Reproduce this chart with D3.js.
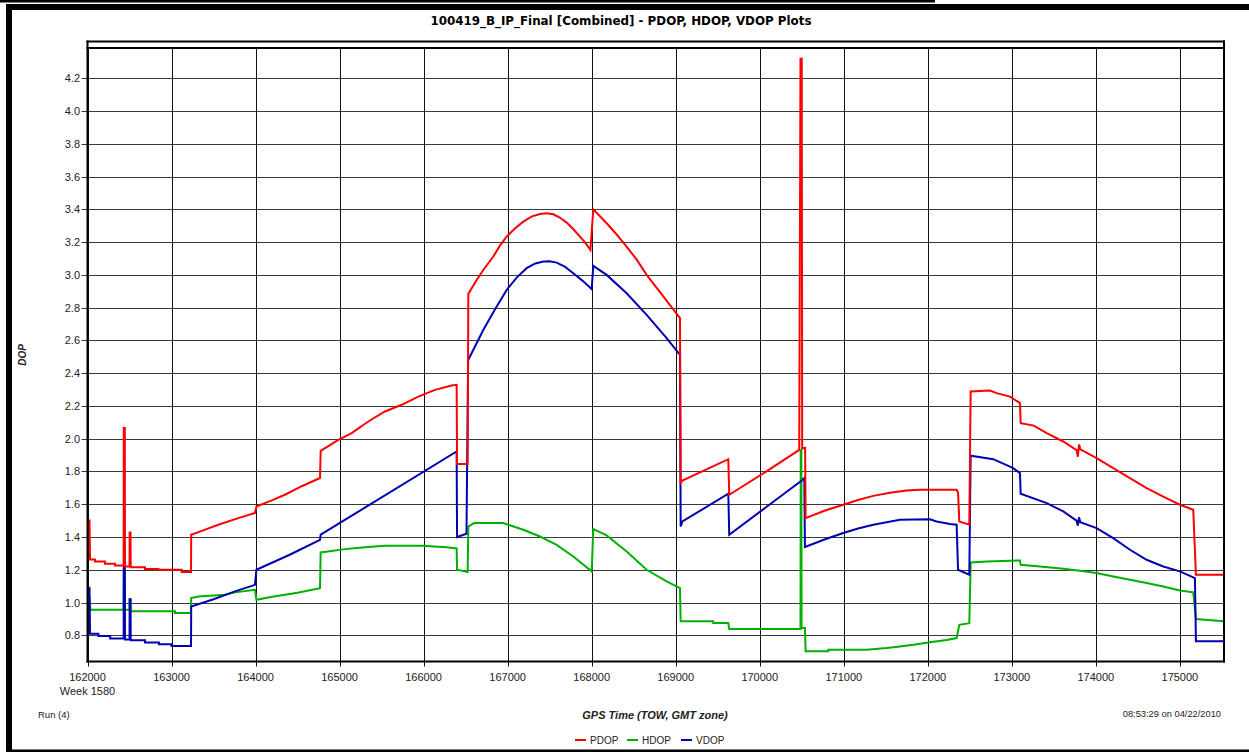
<!DOCTYPE html>
<html><head><meta charset="utf-8">
<script src="https://cdn.jsdelivr.net/npm/d3@7"></script>
<style>
html,body{margin:0;padding:0;background:#fff;}
svg{display:block;}
text{font-family:"Liberation Sans",Arial,sans-serif;fill:#222;}
</style></head>
<body><svg id="c" width="1249" height="752"></svg>
<script>
const chartTitle = "100419_B_IP_Final [Combined] - PDOP, HDOP, VDOP Plots";
const xTicks = [162000,163000,164000,165000,166000,167000,168000,169000,170000,171000,172000,173000,174000,175000];
const yTicks = [0.8,1.0,1.2,1.4,1.6,1.8,2.0,2.2,2.4,2.6,2.8,3.0,3.2,3.4,3.6,3.8,4.0,4.2];
const seriesNames = ["PDOP","HDOP","VDOP"];

const pdop = [[162020,1.50],[162024,1.50],[162030,1.262],[162089,1.262],[162089,1.25],[162208,1.25],[162208,1.237],[162327,1.237],[162327,1.226],[162430,1.226],[162432,2.065],[162444,2.065],[162446,1.22],[162500,1.22],[162502,1.428],[162512,1.428],[162514,1.216],[162684,1.216],[162684,1.204],[162843,1.204],[162843,1.20],[163121,1.20],[163121,1.186],[163232,1.186],[163234,1.414],[163400,1.445],[163557,1.475],[163795,1.515],[163993,1.546],[164010,1.586],[164200,1.625],[164350,1.658],[164550,1.71],[164767,1.76],[164775,1.926],[164985,1.993],[165144,2.034],[165342,2.105],[165540,2.166],[165739,2.207],[165937,2.257],[166135,2.298],[166334,2.325],[166393,2.329],[166398,1.845],[166524,1.845],[166532,2.884],[166620,2.96],[166710,3.03],[166829,3.112],[166910,3.18],[166988,3.234],[167090,3.285],[167186,3.325],[167290,3.357],[167385,3.372],[167460,3.376],[167543,3.37],[167620,3.35],[167702,3.319],[167780,3.28],[167861,3.234],[167925,3.195],[167985,3.152],[168019,3.40],[168178,3.315],[168300,3.245],[168416,3.173],[168540,3.09],[168654,3.0],[168850,2.87],[169051,2.736],[169059,1.73],[169080,1.745],[169626,1.875],[169637,1.658],[170062,1.795],[170470,1.932],[170485,4.32],[170500,4.32],[170505,1.94],[170540,1.945],[170546,1.515],[170770,1.56],[170994,1.597],[171170,1.626],[171351,1.651],[171550,1.67],[171748,1.684],[171907,1.688],[172343,1.688],[172360,1.67],[172375,1.495],[172494,1.475],[172510,2.288],[172740,2.294],[172819,2.278],[172978,2.257],[173097,2.217],[173105,2.095],[173260,2.08],[173415,2.034],[173612,1.983],[173770,1.93],[173785,1.89],[173800,1.965],[173815,1.935],[174009,1.881],[174207,1.82],[174406,1.759],[174604,1.698],[174802,1.647],[175000,1.597],[175159,1.566],[175191,1.17],[175536,1.17]];

const hdop = [[162020,1.03],[162024,1.03],[162035,0.956],[162430,0.956],[162432,1.20],[162444,1.20],[162446,0.956],[162500,0.956],[162502,1.02],[162512,1.02],[162514,0.946],[163041,0.946],[163041,0.936],[163232,0.936],[163234,1.027],[163319,1.037],[163636,1.047],[163755,1.062],[163993,1.078],[164010,1.017],[164200,1.035],[164500,1.06],[164767,1.088],[164775,1.306],[165065,1.326],[165303,1.337],[165540,1.347],[165977,1.347],[166274,1.337],[166393,1.33],[166398,1.20],[166524,1.186],[166532,1.464],[166600,1.485],[166948,1.485],[167186,1.444],[167385,1.403],[167583,1.352],[167781,1.281],[168000,1.19],[168019,1.448],[168178,1.41],[168416,1.312],[168654,1.2],[168892,1.129],[169051,1.088],[169059,0.885],[169447,0.885],[169447,0.875],[169626,0.875],[169637,0.838],[170485,0.838],[170488,1.93],[170495,1.93],[170498,0.845],[170538,0.845],[170546,0.702],[170816,0.702],[170816,0.712],[171272,0.712],[171510,0.722],[171669,0.732],[171828,0.742],[172026,0.757],[172224,0.771],[172343,0.783],[172375,0.864],[172494,0.874],[172510,1.245],[172700,1.25],[173097,1.257],[173105,1.230],[173335,1.220],[173612,1.206],[173810,1.194],[174009,1.18],[174207,1.159],[174406,1.139],[174604,1.119],[174802,1.098],[175000,1.074],[175159,1.062],[175191,0.899],[175536,0.885]];

const vdop = [[162020,1.09],[162024,1.09],[162030,0.81],[162130,0.81],[162130,0.795],[162270,0.795],[162270,0.78],[162430,0.78],[162432,1.22],[162444,1.22],[162446,0.775],[162500,0.775],[162502,1.02],[162512,1.02],[162514,0.77],[162684,0.77],[162684,0.756],[162850,0.756],[162850,0.745],[163000,0.745],[163000,0.735],[163232,0.735],[163234,0.976],[163500,1.02],[163755,1.068],[163993,1.108],[164010,1.20],[164400,1.29],[164767,1.383],[164775,1.414],[166393,1.922],[166398,1.40],[166510,1.42],[166530,2.48],[166710,2.664],[166850,2.79],[166988,2.908],[167110,2.985],[167226,3.041],[167330,3.07],[167424,3.081],[167500,3.083],[167583,3.075],[167680,3.05],[167781,3.01],[167890,2.965],[168000,2.913],[168019,3.055],[168178,3.0],[168416,2.888],[168654,2.756],[168892,2.614],[169051,2.512],[169059,1.464],[169080,1.495],[169626,1.664],[169637,1.414],[170500,1.745],[170530,1.76],[170538,1.339],[170770,1.385],[170994,1.424],[171170,1.452],[171351,1.475],[171669,1.505],[172026,1.508],[172105,1.495],[172263,1.48],[172343,1.475],[172360,1.20],[172494,1.17],[172510,1.896],[172779,1.875],[173017,1.82],[173097,1.79],[173105,1.664],[173415,1.607],[173612,1.556],[173770,1.50],[173785,1.47],[173800,1.52],[173815,1.49],[174009,1.454],[174207,1.393],[174406,1.322],[174604,1.261],[174802,1.22],[175000,1.19],[175179,1.149],[175191,0.763],[175536,0.763]];

const colors = {PDOP:"#ff0000", HDOP:"#00b000", VDOP:"#0000b4"};

const svg = d3.select("#c");
const L = 87.5, R = 1224, T = 48, B = 661.5;
const x = d3.scaleLinear().domain([162000,175525]).range([L,R]);
const y = d3.scaleLinear().domain([0.64,4.385]).range([B,T]);
const px = v => Math.round(v) + 0.5;

// page frame
svg.append("rect").attr("x",0).attr("y",0).attr("width",935).attr("height",2.5).attr("fill","#000");
svg.append("rect").attr("x",6).attr("y",4).attr("width",1243).attr("height",6).attr("fill","#000");
svg.append("rect").attr("x",6).attr("y",4).attr("width",6).attr("height",748).attr("fill","#000");
svg.append("rect").attr("x",6).attr("y",749.5).attr("width",1243).attr("height",2.5).attr("fill","#000");

// title
svg.append("text").attr("x",621).attr("y",25).attr("text-anchor","middle")
  .attr("textLength",381).attr("lengthAdjust","spacingAndGlyphs")
  .style("font-family",'"Liberation Sans Narrow","DejaVu Sans Condensed","Liberation Sans",sans-serif')
  .style("font-weight","bold").style("font-size","13px").style("fill","#000").text(chartTitle);

// grid
const g = svg.append("g");
g.selectAll("line.hg").data(yTicks).join("line").attr("class","hg")
  .attr("x1",L-6).attr("x2",R).attr("y1",d=>px(y(d))).attr("y2",d=>px(y(d)))
  .attr("stroke","#3a3a3a").attr("stroke-width",1);
g.selectAll("line.vg").data(xTicks).join("line").attr("class","vg")
  .attr("x1",d=>px(x(d))).attr("x2",d=>px(x(d))).attr("y1",T).attr("y2",B+5)
  .attr("stroke","#111").attr("stroke-width",1);

// y tick labels
g.selectAll("text.yt").data(yTicks).join("text").attr("class","yt")
  .attr("x",80).attr("y",d=>y(d)+4).attr("text-anchor","end")
  .style("font-size","11px").text(d=>d.toFixed(1));
// x tick labels
g.selectAll("text.xt").data(xTicks).join("text").attr("class","xt")
  .attr("x",d=>x(d)).attr("y",681).attr("text-anchor","middle")
  .style("font-size","11px").text(d=>String(d));
svg.append("text").attr("x",x(162000)).attr("y",695).attr("text-anchor","middle")
  .style("font-size","11px").text("Week 1580");

// clip + lines
svg.append("clipPath").attr("id","clip").append("rect").attr("x",L).attr("y",T).attr("width",R-L).attr("height",B-T);
const line = d3.line().x(d=>x(d[0])).y(d=>y(d[1]));
const lg = svg.append("g").attr("clip-path","url(#clip)");
[["HDOP",hdop],["VDOP",vdop],["PDOP",pdop]].forEach(([n,data])=>{
  lg.append("path").datum(data).attr("d",line).attr("fill","none")
    .attr("stroke",colors[n]).attr("stroke-width",2).attr("stroke-linejoin","miter");
});

// plot frame
svg.append("line").attr("x1",L-1).attr("x2",R+1).attr("y1",41.5).attr("y2",41.5).attr("stroke","#000").attr("stroke-width",2);
svg.append("line").attr("x1",L-1).attr("x2",R+1).attr("y1",48).attr("y2",48).attr("stroke","#000").attr("stroke-width",2);
svg.append("line").attr("x1",L).attr("x2",L).attr("y1",40.5).attr("y2",B+1).attr("stroke","#000").attr("stroke-width",2);
svg.append("line").attr("x1",R).attr("x2",R).attr("y1",40.5).attr("y2",B+1).attr("stroke","#000").attr("stroke-width",2);
svg.append("line").attr("x1",L-1).attr("x2",R+1).attr("y1",B).attr("y2",B).attr("stroke","#000").attr("stroke-width",2);

// axis titles
svg.append("text").attr("transform","translate(26,355) rotate(-90)").attr("text-anchor","middle")
  .style("font-size","10px").style("font-weight","bold").style("font-style","italic").text("DOP");
svg.append("text").attr("x",655).attr("y",719).attr("text-anchor","middle")
  .style("font-size","11px").style("font-weight","bold").style("font-style","italic").text("GPS Time (TOW, GMT zone)");
svg.append("text").attr("x",38).attr("y",718).style("font-size","9.5px").text("Run (4)");
svg.append("text").attr("x",1221).attr("y",717).attr("text-anchor","end").style("font-size","9.3px").text("08:53:29 on 04/22/2010");

// legend
const legX = [575,627,681];
const leg = svg.append("g");
seriesNames.forEach((n,i)=>{
  leg.append("line").attr("x1",legX[i]).attr("x2",legX[i]+11).attr("y1",740).attr("y2",740)
    .attr("stroke",colors[n]).attr("stroke-width",2);
  leg.append("text").attr("x",legX[i]+15).attr("y",744).style("font-size","10px").text(n);
});
</script></body></html>
